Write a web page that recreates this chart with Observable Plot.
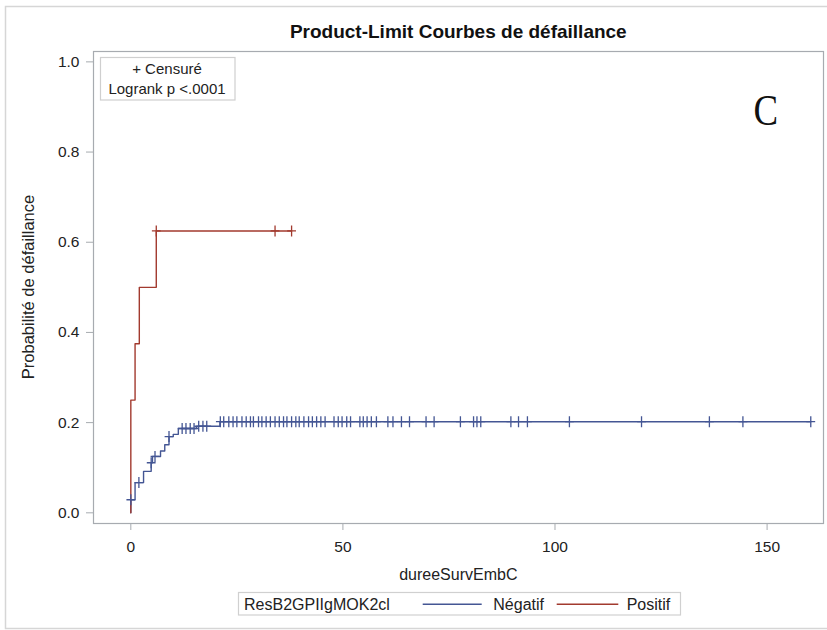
<!DOCTYPE html>
<html>
<head>
<meta charset="utf-8">
<script src="https://cdn.jsdelivr.net/npm/d3@7"></script>
<script src="https://cdn.jsdelivr.net/npm/@observablehq/plot@0.6"></script>
<style>
  html, body { margin: 0; padding: 0; background: #fff; }
  #chart { position: absolute; left: 0; top: 0; }
</style>
</head>
<body>
<div id="chart"></div>
<script>
// ---- Data ----
const groups = ["Négatif", "Positif"];
const groupColors = ["#445694", "#A23A2E"];

// Négatif: event times and failure probability after each event
const negEventTimes = [0, 1, 3, 4.8, 5.1, 7, 8, 9, 10, 11.2, 15.5, 21];
const negFailure    = [0.029, 0.067, 0.092, 0.111, 0.125, 0.137, 0.151, 0.169, 0.174, 0.187, 0.192, 0.202];
const negCensored   = [0, 1.9, 4.8, 5.7, 9.0, 12.1, 13.0, 14.0, 14.9, 16.0, 17.0, 17.9, 21.1, 21.9, 23.1,
  24.1, 25.0, 26.2, 27.2, 28.2, 28.9, 30.1, 30.9, 31.9, 32.9, 34.0, 35.0, 36.0, 36.8, 37.9, 38.9, 39.7,
  40.8, 41.9, 42.8, 43.8, 44.8, 45.8, 47.9, 48.9, 49.8, 50.9, 51.8, 54.0, 54.8, 55.7, 56.7, 57.9, 60.6,
  61.8, 63.8, 65.7, 69.6, 71.5, 77.7, 80.8, 81.6, 82.5, 89.6, 91.4, 93.5, 103.4, 120.4, 136.4, 144.3, 160.3];

// Positif
const posEventTimes = [0, 1, 2, 6];
const posFailure    = [0.25, 0.375, 0.5, 0.625];
const posCensored   = [6, 34.0, 37.9];

const xTicks = [0, 50, 100, 150];
const yTicks = [0, 0.2, 0.4, 0.6, 0.8, 1.0];

const titleText = "Product-Limit Courbes de défaillance";
const xLabel = "dureeSurvEmbC";
const yLabel = "Probabilité de défaillance";
const insetLines = ["+ Censuré", "Logrank p <.0001"];
const legendTitle = "ResB2GPIIgMOK2cl";
const panelLetter = "C";

// ---- Build tables ----
function stepRows(group, times, vals, censored) {
  const end = Math.max(times[times.length - 1], d3.max(censored));
  const rows = [{group, t: 0, v: 0}];
  times.forEach((t, i) => rows.push({group, t, v: vals[i]}));
  rows.push({group, t: end, v: vals[vals.length - 1]});
  return rows;
}
function censorRows(group, times, vals, censored) {
  return censored.map(t => {
    let v = 0;
    times.forEach((et, i) => { if (et <= t) v = vals[i]; });
    return {group, t, v};
  });
}
const lineData = [
  ...stepRows(groups[0], negEventTimes, negFailure, negCensored),
  ...stepRows(groups[1], posEventTimes, posFailure, posCensored)
];
const censorData = [
  ...censorRows(groups[0], negEventTimes, negFailure, negCensored),
  ...censorRows(groups[1], posEventTimes, posFailure, posCensored)
];

const plusSymbol = {
  draw(context, size) {
    const r = Math.sqrt(size / Math.PI);
    context.moveTo(-0.8 * r, 0); context.lineTo(0.8 * r, 0);
    context.moveTo(0, -r); context.lineTo(0, r);
  }
};

const W = 827, H = 630;
const mL = 93, mR = 4, mT = 51, mB = 107;
const FONT = "'Liberation Sans', Arial, sans-serif";
const GRID = "#a7abb0";

const chart = Plot.plot({
  width: W, height: H,
  marginLeft: mL, marginRight: mR, marginTop: mT, marginBottom: mB,
  style: {fontFamily: FONT, fontSize: "15.5px", background: "#fff", color: "#222", overflow: "visible"},
  x: {domain: [-8.8, 163.3]},
  y: {domain: [-0.0237, 1.023]},
  color: {domain: groups, range: groupColors},
  marks: [
    Plot.axisX({ticks: xTicks, tickSize: 7, tickPadding: 10, label: null, stroke: GRID, fill: "#222", tickFormat: d3.format("d")}),
    Plot.axisY({ticks: yTicks, tickSize: 7, tickPadding: 7, label: null, stroke: GRID, fill: "#222", tickFormat: d3.format(".1f")}),
    Plot.line(lineData, {x: "t", y: "v", z: "group", stroke: "group", curve: "step-after", strokeWidth: 1.4}),
    Plot.dot(censorData, {x: "t", y: "v", stroke: "group", symbol: plusSymbol, r: 5.5, strokeWidth: 1.3, fill: "none"}),
    Plot.frame({stroke: GRID, strokeWidth: 1.2})
  ]
});

document.getElementById("chart").appendChild(chart);
const svg = d3.select(chart);

// outer border
svg.insert("path", ":first-child")
  .attr("d", `M827,6.5H5.5V628.5H827`)
  .attr("fill", "none").attr("stroke", "#d6d6d6").attr("stroke-width", 1.5);

// title
svg.append("text").attr("x", 458.3).attr("y", 38.3).attr("text-anchor", "middle")
  .attr("font-family", FONT).attr("font-weight", "bold").attr("font-size", 19).attr("fill", "#111")
  .text(titleText);

// x label
svg.append("text").attr("x", 458.3).attr("y", 580).attr("text-anchor", "middle")
  .attr("font-family", FONT).attr("font-size", 16).attr("fill", "#222").text(xLabel);

// y label
svg.append("text").attr("transform", "translate(34,287) rotate(-90)").attr("text-anchor", "middle")
  .attr("font-family", FONT).attr("font-size", 16.5).attr("fill", "#222").text(yLabel);

// inset box
svg.append("rect").attr("x", 100.5).attr("y", 57.5).attr("width", 134.5).attr("height", 42.5)
  .attr("fill", "#fff").attr("stroke", "#cfcfcf").attr("stroke-width", 1.2);
svg.append("text").attr("x", 167).attr("y", 74).attr("text-anchor", "middle")
  .attr("font-family", FONT).attr("font-size", 15).attr("fill", "#222").text(insetLines[0]);
svg.append("text").attr("x", 167).attr("y", 94).attr("text-anchor", "middle")
  .attr("font-family", FONT).attr("font-size", 15).attr("fill", "#222").text(insetLines[1]);

// panel letter
svg.append("text").attr("transform", "translate(765.7,125) scale(0.82,1)").attr("text-anchor", "middle")
  .attr("font-family", "'Liberation Serif', 'DejaVu Serif', serif").attr("font-size", 45).attr("fill", "#111")
  .text(panelLetter);

// legend
const lg = svg.append("g").attr("text-anchor", "start");
lg.append("rect").attr("x", 238.5).attr("y", 592.5).attr("width", 442).attr("height", 22.5)
  .attr("fill", "#fff").attr("stroke", "#d0d0d0").attr("stroke-width", 1.2);
lg.append("text").attr("x", 244).attr("y", 609.5).attr("text-anchor", "start").attr("font-family", FONT)
  .attr("font-size", 16).attr("fill", "#222").text(legendTitle);
const legendItems = [
  {x1: 422.7, x2: 481.7, tx: 493.3},
  {x1: 556.7, x2: 618.3, tx: 626.7}
];
groups.forEach((g, i) => {
  lg.append("line").attr("x1", legendItems[i].x1).attr("x2", legendItems[i].x2)
    .attr("y1", 604.3).attr("y2", 604.3).attr("stroke", groupColors[i]).attr("stroke-width", 1.4);
  lg.append("text").attr("x", legendItems[i].tx).attr("y", 609.5).attr("text-anchor", "start")
    .attr("font-family", FONT).attr("font-size", 16).attr("fill", "#222").text(g);
});
</script>
</body>
</html>
